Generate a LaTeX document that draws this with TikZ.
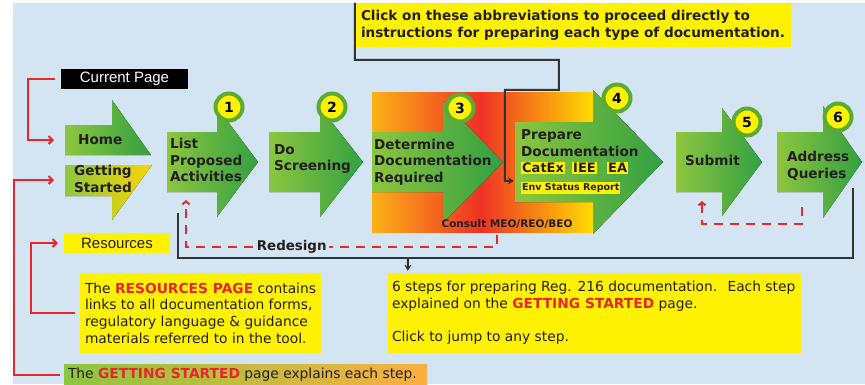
\documentclass[tikz,border=0pt]{standalone}
\usepackage{fontspec}
\setmainfont{DejaVu Sans}
\newfontfamily\arialfont{Liberation Sans}
\usetikzlibrary{arrows.meta}

\definecolor{bgblue}{HTML}{D3E4F3}
\definecolor{noteyellow}{HTML}{FFF200}
\definecolor{hired}{HTML}{E8262B}
\definecolor{lightgreen}{HTML}{8DC63F}
\definecolor{darkgreen}{HTML}{32A042}
\definecolor{ringgreen}{HTML}{5BAA32}
\definecolor{darkline}{HTML}{333333}
\definecolor{inktext}{HTML}{231F20}
\definecolor{amber}{HTML}{FBB117}
\definecolor{hotred}{HTML}{EE3124}
\definecolor{sunyellow}{HTML}{FFDD00}
\definecolor{orangebar}{HTML}{FBB040}

\tikzset{
  stepfill/.style={left color=lightgreen, right color=darkgreen},
  steplabel/.style={anchor=west, align=left, inner sep=0pt, text=inktext, font=\bfseries\fontsize{13.6}{16.6}\selectfont},
  numdot/.style={circle, fill=noteyellow, draw=ringgreen, line width=4pt, minimum size=27pt, inner sep=0pt, font=\bfseries\fontsize{14}{14}\selectfont},
  notebox/.style={fill=noteyellow, inner sep=0pt},
  bodytext/.style={anchor=west, align=left, inner sep=0pt, text=inktext, font=\fontsize{13.8}{16.6}\selectfont},
  tag/.style={anchor=west, fill=noteyellow, inner xsep=1pt, inner ysep=1pt, text=inktext, font=\bfseries\fontsize{13}{13}\selectfont},
  redline/.style={draw=hired, line width=2pt, -{Straight Barb[length=4pt,width=8pt]}},
  redloop/.style={draw=hired, line width=2pt, dash pattern=on 9pt off 7pt, -{Straight Barb[length=3pt,width=7pt]}},
  blackline/.style={draw=darkline, line width=2pt}
}

\begin{document}
\begin{tikzpicture}[x=1pt, y=-1pt]
\useasboundingbox (0,0) rectangle (865,384);
\fill[bgblue] (13,3) rectangle (865,384);

% orange backdrop behind steps 3 and 4
\fill[left color=amber, right color=hotred] (372,92) rectangle (481,232);
\fill[left color=hotred, right color=sunyellow] (480,92) rectangle (593,232);

% step arrows
\foreach \l/\a/\b/\n/\h/\t in {167/132/192/217/55/258, 269/132/192/320/55/363, 372/132/192/443/61/503, 515/122/202/593/72/663, 676/132/192/722/54/762, 777/132/192/823/56/862}
  \fill[stepfill] (\l,\a) -- (\n,\a) -- (\n,162-\h) -- (\t,162) -- (\n,162+\h) -- (\n,\b) -- (\l,\b) -- cycle;
\fill[stepfill] (65,125) -- (112,125) -- (112,100) -- (151,155) -- (65,155) -- cycle;
\fill[left color=lightgreen, right color=sunyellow!80!amber] (65,165) -- (152,165) -- (112,220) -- (112,196) -- (65,196) -- cycle;

\foreach \k/\x/\y in {1/229/107, 2/332/107, 3/460/108, 4/617/98, 5/747/122, 6/838/117}
  \node[numdot] (n\k) at (\x,\y) {\k};

\node[steplabel] (home) at (78,140) {Home};
\node[steplabel] (start) at (74,179) {Getting\\Started};
\node[steplabel] (list) at (170,160) {List\\Proposed\\Activities};
\node[steplabel] (screen) at (274,159) {Do\\Screening};
\node[steplabel] (determine) at (374,162) {Determine\\Documentation\\Required};
\node[steplabel] (prepare) at (521,143) {Prepare\\Documentation};
\node[tag] (catex) at (521,168) {CatEx};
\node[tag] (iee) at (572,168) {IEE};
\node[tag] (ea) at (607,168) {EA};
\node[tag, font=\bfseries\fontsize{9.5}{9.5}\selectfont] (env) at (521,188) {Env Status Report};
\node[steplabel] (submit) at (685,160) {Submit};
\node[steplabel] (queries) at (787,166) {Address\\Queries};
\node[text=inktext, inner sep=0pt, font=\bfseries\fontsize{10.5}{10.5}\selectfont] (consult) at (507,224) {Consult MEO/REO/BEO};

\node[fill=black, text=white, inner sep=0pt, minimum width=127pt, minimum height=20pt, font=\arialfont\fontsize{15}{15}\selectfont] (current) at (124.5,79) {Current Page};
\node[notebox, text=inktext, minimum width=106pt, minimum height=20pt, font=\arialfont\fontsize{15}{15}\selectfont] (res) at (117,243) {Resources};

\node[notebox, minimum width=436pt, minimum height=44pt] (note) at (573,25) {};
\node[bodytext, font=\bfseries\fontsize{13.6}{16.6}\selectfont] at ([xshift=6pt]note.west) {Click on these abbreviations to proceed directly to\\instructions for preparing each type of documentation.};
\node[notebox, minimum width=241pt, minimum height=80pt] (respage) at (200.5,313) {};
\node[bodytext] at ([xshift=5pt]respage.west) {The \textcolor{hired}{\textbf{RESOURCES PAGE}} contains\\links to all documentation forms,\\regulatory language \& guidance\\materials referred to in the tool.};
\node[notebox, minimum width=413pt, minimum height=80pt] (steps) at (594.5,313) {};
\node[bodytext] at ([xshift=4pt]steps.west) {6 steps for preparing Reg. 216 documentation.~ Each step\\explained on the \textcolor{hired}{\textbf{GETTING STARTED}} page.\\[16.6pt]Click to jump to any step.};
\node[left color=lightgreen, right color=orangebar, inner sep=0pt, minimum width=363pt, minimum height=21pt] (gsbar) at (245.5,374.5) {};
\node[bodytext] at ([xshift=4pt]gsbar.west) {The \textcolor{hired}{\textbf{GETTING STARTED}} page explains each step.};

% red links to the side pages
\coordinate (homein) at (54,140);
\coordinate (startin) at (54,180);
\coordinate (resin) at (58,243);
\draw[redline, shorten <=6pt] (current.west) -- ++(-33,0) |- (homein);
\draw[redline, shorten <=4pt] (gsbar.west) -- ++(-50,0) |- (startin);
\draw[redline, shorten <=5pt] (respage.west) -- ++(-49,0) |- (resin);

% dashed loops back
\coordinate (consultout) at (497,235);
\coordinate (listback) at (186,200);
\coordinate (queriesout) at (802,207);
\coordinate (submitback) at (702,201);
\draw[redloop] (consultout) -- ++(0,12) -| node[pos=0.33, fill=bgblue, inner sep=2pt, text=inktext, font=\bfseries\fontsize{13.4}{13.4}\selectfont] (redesign) {Redesign} (listback);
\draw[redloop] (queriesout) -- ++(0,17) -| (submitback);

% black frames
\coordinate (catin) at (514,181);
\draw[blackline, -{Stealth[length=6pt,width=7pt]}] (note.north west) -- ++(0,57) -| ++(204,30) -| ++(-54,91) -- (catin);
\coordinate (loopl) at (178,213);
\coordinate (loopr) at (853,188);
\coordinate (branch) at (408,258);
\draw[blackline] (loopl) -- ++(0,45) -| (loopr);
\draw[blackline, -{Stealth[length=6pt,width=7pt]}] (branch) -- ([xshift=20pt, yshift=2pt]steps.north west);
\end{tikzpicture}
\end{document}
